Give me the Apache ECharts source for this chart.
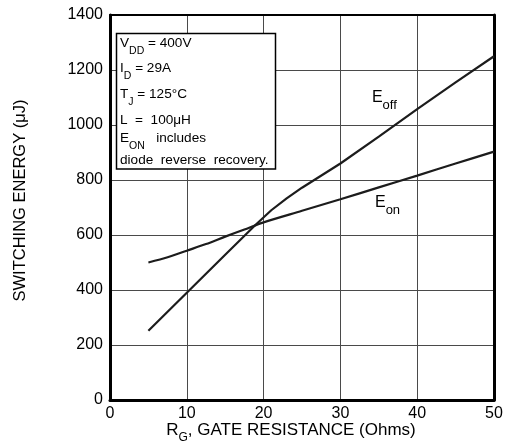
<!DOCTYPE html>
<html><head><meta charset="utf-8">
<script src="https://cdn.jsdelivr.net/npm/echarts@6/dist/echarts.min.js"></script>
<style>html,body{margin:0;padding:0;background:#fff}#c{width:509px;height:445px}</style>
</head><body><div id="c"></div>
<script>
// Data
const rgOff = [5, 10, 15, 19, 21, 23, 25, 30, 35, 40, 45, 50];
const eOff  = [252, 390, 528, 638, 690, 733, 772, 860, 958, 1058, 1155, 1250];
const rgOn  = [5, 7.5, 10, 12.5, 15, 17.5, 20, 25, 30, 35, 40, 45, 50];
const eOn   = [500, 519, 543, 567, 594, 620, 646, 688, 730, 773, 816, 860, 903];
const xRange = [0, 50, 10];
const yRange = [0, 1400, 200];
const condLines = [
  [['m', 'V'], ['s', 'DD'], ['m', ' = 400V']],
  [['m', 'I'], ['s', 'D'], ['m', ' = 29A']],
  [['m', 'T'], ['s', 'J'], ['m', ' = 125°C']],
  [['m', 'L  =  100μH']],
  [['m', 'E'], ['s', 'ON'], ['m', '   includes']],
  [['m', 'diode  reverse  recovery.']]
];
const curveLabels = [
  { main: 'E', sub: 'off', at: [34.1, 1100] },
  { main: 'E', sub: 'on',  at: [34.5, 718] }
];
const yTitle = 'SWITCHING ENERGY (μJ)';
const xTitle = [['m', 'R'], ['s', 'G'], ['m', ', GATE RESISTANCE (Ohms)']];

const FONT = '"Liberation Sans", Arial, Helvetica, sans-serif';
const INK = '#1c1c1c';
const chart = echarts.init(document.getElementById('c'), null, { renderer: 'canvas' });

function toRich(tokens) {
  return tokens.map(t => '{' + t[0] + '|' + t[1] + '}').join('');
}

const lineCenters = [43.3, 68.3, 94, 119.7, 138.3, 159.7];
const boxGraphics = [{
  type: 'rect', z: 100,
  shape: { x: 116.5, y: 33.5, width: 159, height: 135.5 },
  style: { fill: '#fff', stroke: '#000', lineWidth: 1.5 }
}];
condLines.forEach((ln, i) => {
  boxGraphics.push({
    type: 'text', z: 101, x: 120, y: lineCenters[i] - 6.8,
    style: {
      text: toRich(ln), fill: '#000', align: 'left', verticalAlign: 'top',
      rich: {
        m: { fontFamily: FONT, fontSize: 13.6, fill: '#000', padding: [0, 0, 6, 0] },
        s: { fontFamily: FONT, fontSize: 10.5, fill: '#000', padding: [9, 0, 0, 0] }
      }
    }
  });
});

const titleGraphics = [
  {
    type: 'text', z: 100, x: 20, y: 200.5, rotation: Math.PI / 2,
    style: { text: yTitle, fontFamily: FONT, fontSize: 16.5, fill: '#000', align: 'center', verticalAlign: 'middle' }
  },
  {
    type: 'text', z: 100, x: 291, y: 432.5,
    style: {
      text: toRich(xTitle), align: 'center', verticalAlign: 'middle',
      rich: {
        m: { fontFamily: FONT, fontSize: 17, fill: '#000', padding: [0, 0, 5, 0] },
        s: { fontFamily: FONT, fontSize: 12, fill: '#000', padding: [10, 0, 0, 0] }
      }
    }
  }
];

const plain = v => String(v);

const option = {
  animation: false,
  backgroundColor: '#fff',
  grid: { left: 110, right: 15, top: 15, bottom: 45, containLabel: false },
  xAxis: [
    {
      type: 'value', min: xRange[0], max: xRange[1], interval: xRange[2],
      axisLine: { show: true, onZero: false, lineStyle: { color: '#000', width: 3 } },
      axisTick: { show: false },
      axisLabel: { color: '#000', fontSize: 16, fontFamily: FONT, margin: 6, formatter: plain },
      splitLine: { show: true, lineStyle: { color: '#4a4a4a', width: 1 } }
    },
    {
      type: 'value', position: 'top', min: xRange[0], max: xRange[1], interval: xRange[2],
      axisLine: { show: true, onZero: false, lineStyle: { color: '#000', width: 2 } },
      axisTick: { show: false }, axisLabel: { show: false }, splitLine: { show: false }
    }
  ],
  yAxis: [
    {
      type: 'value', min: yRange[0], max: yRange[1], interval: yRange[2],
      axisLine: { show: true, onZero: false, lineStyle: { color: '#000', width: 3 } },
      axisTick: { show: false },
      axisLabel: { color: '#000', fontSize: 16, fontFamily: FONT, margin: 7, formatter: plain },
      splitLine: { show: true, lineStyle: { color: '#4a4a4a', width: 1 } }
    },
    {
      type: 'value', position: 'right', min: yRange[0], max: yRange[1], interval: yRange[2],
      axisLine: { show: true, onZero: false, lineStyle: { color: '#000', width: 3 } },
      axisTick: { show: false }, axisLabel: { show: false }, splitLine: { show: false }
    }
  ],
  series: [
    {
      type: 'line', name: 'Eoff', data: rgOff.map((x, i) => [x, eOff[i]]),
      showSymbol: false, symbol: 'none', smooth: false,
      lineStyle: { color: INK, width: 2.2 }, z: 5
    },
    {
      type: 'line', name: 'Eon', data: rgOn.map((x, i) => [x, eOn[i]]),
      showSymbol: false, symbol: 'none', smooth: 0.3,
      lineStyle: { color: INK, width: 2.2 }, z: 5
    }
  ],
  graphic: boxGraphics.concat(titleGraphics)
};
chart.setOption(option);

const labelGraphics = curveLabels.map(l => {
  const p = chart.convertToPixel({ gridIndex: 0 }, l.at);
  return {
    type: 'text', z: 100, x: p[0], y: p[1] - 8,
    style: {
      text: '{m|' + l.main + '}{s|' + l.sub + '}', align: 'left', verticalAlign: 'top',
      rich: {
        m: { fontFamily: FONT, fontSize: 16, fill: '#000', padding: [0, 0, 6, 0] },
        s: { fontFamily: FONT, fontSize: 13, fill: '#000', padding: [9, 0, 0, 0] }
      }
    }
  };
});
chart.setOption({ graphic: boxGraphics.concat(titleGraphics, labelGraphics) });
</script>
</body></html>
